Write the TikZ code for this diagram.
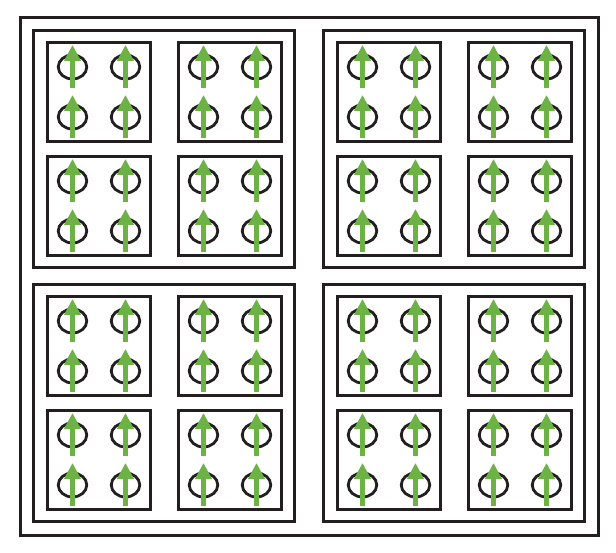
\documentclass[tikz,border=0pt]{standalone}
\usetikzlibrary{arrows.meta, positioning, calc, shapes.geometric}
\definecolor{ink}{RGB}{35,31,32}
\definecolor{spingreen}{RGB}{108,178,68}
\tikzset{
  frm/.style={
    draw=ink, line width=2.9pt, inner sep=0pt,
    minimum width=578pt, minimum height=518pt
  },
  quad/.style={frm, minimum width=261pt, minimum height=237pt},
  cell/.style={frm, minimum width=103pt, minimum height=99pt},
  site/.style={
    draw=ink, ellipse, line width=2.8pt, inner sep=0pt,
    minimum width=28.5pt, minimum height=24pt
  },
  spin/.style={-{Triangle[length=16pt,width=16pt]}, line width=5pt, spingreen}
}

\begin{document}
\begin{tikzpicture}[x=1pt, y=-1pt]

  \useasboundingbox (0,0) rectangle (616,553);

  \node[frm] (box) at (309.5,276.5) {};

  \foreach \qx/\qy/\qn in {164/149/tl, 454/149/tr, 164/403/bl, 454/403/br} {
    \node[quad] (\qn) at (\qx,\qy) {};
    \foreach \cx/\cy/\cn in {-65/-57/a, 66/-57/b, -65/57/c, 66/57/d} {
      \node[cell] (\qn-\cn) at ($(\qn)+(\cx,\cy)$) {};
      \foreach \sx/\sy/\sn in {-26.5/-25/1, 26.5/-25/2, -26.5/25/3, 26.5/25/4} {
        \node[site] (\qn-\cn-\sn) at ($(\qn-\cn)+(\sx,\sy)$) {};
        \draw[spin] ([yshift=-21pt]\qn-\cn-\sn.center) -- ([yshift=22pt]\qn-\cn-\sn.center);
      }
    }
  }

\end{tikzpicture}
\end{document}
